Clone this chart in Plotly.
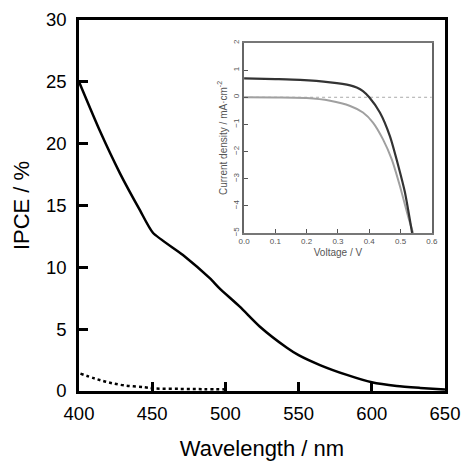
import plotly.graph_objects as go

# Main IPCE data
wl_solid = [400, 414, 428, 441.7, 450.5, 471, 489.5, 496, 510, 523.6, 542, 550, 564.6, 583, 600, 617, 633, 650]
ipce_solid = [25.0, 21.1, 17.6, 14.6, 12.8, 11.0, 9.1, 8.3, 6.8, 5.2, 3.5, 2.9, 2.1, 1.3, 0.7, 0.4, 0.25, 0.12]
wl_dot = [401, 411, 420, 431, 445, 452, 470, 485, 500]
ipce_dot = [1.4, 1.0, 0.7, 0.45, 0.3, 0.2, 0.17, 0.15, 0.13]

# Inset J-V data
v_light = [0.0, 0.1, 0.179, 0.275, 0.339, 0.36, 0.38, 0.40, 0.434, 0.466, 0.493, 0.514, 0.537]
j_light = [0.70, 0.67, 0.64, 0.55, 0.44, 0.36, 0.23, 0.0, -0.56, -1.43, -2.53, -3.5, -5.0]
v_dark = [0.0, 0.1, 0.2, 0.275, 0.339, 0.38, 0.412, 0.444, 0.472, 0.498, 0.524, 0.54]
j_dark = [0.0, -0.01, -0.03, -0.13, -0.32, -0.56, -0.93, -1.55, -2.29, -3.27, -4.38, -5.0]
v_zero = [0.0, 0.6]
j_zero = [0.0, 0.0]

FONT = "Arial, Liberation Sans, sans-serif"
fig = go.Figure()
fig.add_trace(go.Scatter(x=wl_solid, y=ipce_solid, mode="lines", line=dict(color="black", width=2.5, shape="spline", smoothing=0.6), showlegend=False))
fig.add_trace(go.Scatter(x=wl_dot, y=ipce_dot, mode="lines", line=dict(color="black", width=2.5, dash="dot", shape="spline"), showlegend=False))

fig.add_trace(go.Scatter(x=v_zero, y=j_zero, xaxis="x2", yaxis="y2", mode="lines", line=dict(color="#aaaaaa", width=1, dash="dot"), showlegend=False))
fig.add_trace(go.Scatter(x=v_dark, y=j_dark, xaxis="x2", yaxis="y2", mode="lines", line=dict(color="#a0a0a0", width=2, shape="spline", smoothing=0.6), showlegend=False))
fig.add_trace(go.Scatter(x=v_light, y=j_light, xaxis="x2", yaxis="y2", mode="lines", line=dict(color="#333333", width=2.2, shape="spline", smoothing=0.6), showlegend=False))

fig.update_layout(
    width=463, height=461,
    margin=dict(l=79, r=18, t=20, b=70),
    plot_bgcolor="white", paper_bgcolor="white",
    font=dict(family=FONT, color="black"),
    xaxis=dict(range=[400, 650], tickvals=[400, 450, 500, 550, 600, 650], ticks="inside", ticklen=9, tickwidth=2.5,
               tickcolor="black", showline=True, linewidth=2.5, linecolor="black", mirror=True, showgrid=False, zeroline=False,
               automargin=False, ticklabelstandoff=4,
               tickfont=dict(size=18.5), title=dict(text="Wavelength / nm", font=dict(size=22), standoff=18)),
    yaxis=dict(range=[0, 30], tickvals=[0, 5, 10, 15, 20, 25, 30], ticks="inside", ticklen=9, tickwidth=2.5,
               tickcolor="black", showline=True, linewidth=2.5, linecolor="black", mirror=True, showgrid=False, zeroline=False,
               automargin=False, ticklabelstandoff=6,
               tickfont=dict(size=18.5), title=dict(text="IPCE / %", font=dict(size=22), standoff=11)),
    xaxis2=dict(domain=[0.451, 0.964], anchor="y2", range=[0, 0.6], tickvals=[0, 0.1, 0.2, 0.3, 0.4, 0.5, 0.6],
                ticktext=["0.0", "0.1", "0.2", "0.3", "0.4", "0.5", "0.6"], ticks="inside", ticklen=4, tickwidth=1,
                tickcolor="#555555", showline=True, linewidth=1.5, linecolor="#777777", mirror=True, showgrid=False,
                zeroline=False, automargin=False, tickfont=dict(size=8, color="#555555"),
                title=dict(text="Voltage / V", font=dict(size=10, color="#555555"), standoff=4)),
    yaxis2=dict(domain=[0.426, 0.938], anchor="x2", range=[-5, 2], tickvals=[-5, -4, -3, -2, -1, 0, 1, 2],
                ticks="inside", ticklen=4, tickwidth=1, tickangle=-90,
                tickcolor="#555555", showline=True, linewidth=1.5, linecolor="#666666", mirror=True, showgrid=False,
                zeroline=False, automargin=False, tickfont=dict(size=8, color="#555555"),
                title=dict(text="Current density / mA·cm<sup>-2</sup>", font=dict(size=10, color="#555555"), standoff=3)),
)

fig.write_html("out.html", config={"displayModeBar": False},
               post_script="document.body.style.margin='0';document.body.style.overflow='hidden';")
